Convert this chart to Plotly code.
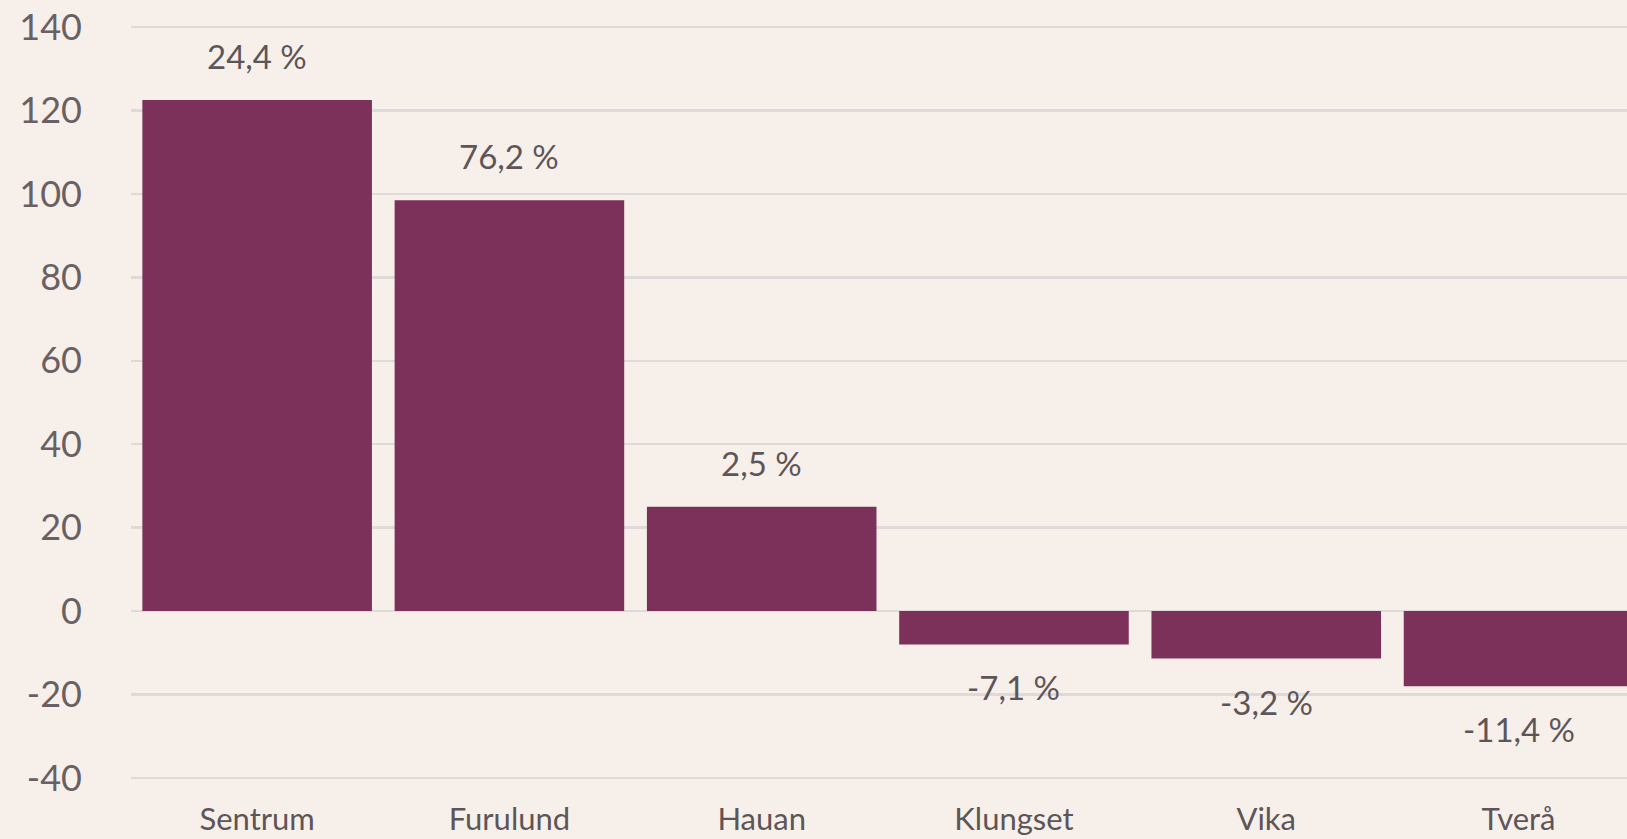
import plotly.graph_objects as go

categories = ["Sentrum", "Furulund", "Hauan", "Klungset", "Vika", "Tverå"]
values = [122.5, 98.5, 25, -8, -11.4, -18]
labels = ["24,4 %", "76,2 %", "2,5 %", "-7,1 %", "-3,2 %", "-11,4 %"]
yticks = [-40, -20, 0, 20, 40, 60, 80, 100, 120, 140]
ytick_text = ["-40", "-20", "0", "20", "40", "60", "80", "100", "120", "140"]

BG = "#F7F0EA"
BAR = "#7B3159"
GRID = "#DEDADA"
TXT = "#5E5558"
FONT = "Lato"

fig = go.Figure()
fig.add_trace(go.Bar(x=categories, y=values, marker=dict(color=BAR, line=dict(width=0)),
                     width=0.91, hoverinfo="skip"))

for c, v, t in zip(categories, values, labels):
    fig.add_annotation(x=c, y=v, text=t, showarrow=False,
                       yanchor="bottom" if v >= 0 else "top",
                       yshift=22 if v >= 0 else -21,
                       font=dict(family=FONT, size=33, color=TXT))

fig.update_layout(
    width=1627, height=839,
    paper_bgcolor=BG, plot_bgcolor=BG,
    margin=dict(l=131, r=0, t=25, b=59),
    showlegend=False,
    bargap=0.09,
    xaxis=dict(range=[-0.5, 5.43], showgrid=False, showline=False, zeroline=False,
               tickfont=dict(family=FONT, size=31, color=TXT), ticks="",
               ticklabelstandoff=18, fixedrange=True),
    yaxis=dict(range=[-40.5, 140.5], tickvals=yticks, ticktext=ytick_text,
               showgrid=True, gridcolor=GRID, gridwidth=2.5,
               zeroline=True, zerolinecolor=GRID, zerolinewidth=2.5, showline=False,
               tickfont=dict(family=FONT, size=36, color="#6A5F62"), ticks="",
               ticklabelstandoff=48, fixedrange=True),
)

fig.write_html("out.html", config={"displayModeBar": False, "staticPlot": True},
               post_script="document.body.style.margin='0';document.body.style.background='#F7F0EA';")
